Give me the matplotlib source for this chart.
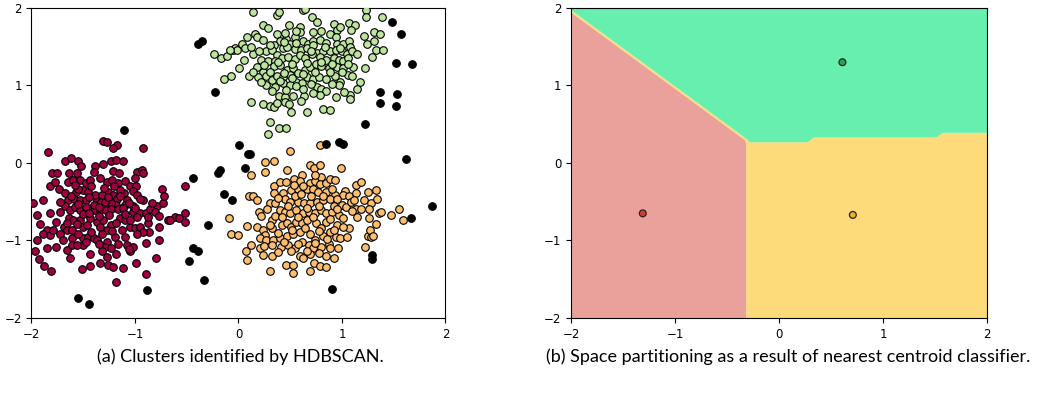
import numpy as np
import matplotlib
matplotlib.use('Agg')
import matplotlib.pyplot as plt

# cluster 0 (dark red)
red_x = [-1.31, -1.27, -1.17, -1.21, -0.92, -1.84, -1.68, -1.62, -1.55, -1.52, -1.39, -1.31, -1.23, -1.18, -1.12,
         -1.21, -1.15, -0.98, -0.93, -0.92, -1.80, -1.75, -1.64, -1.56, -1.82, -1.73, -1.77, -1.65, -1.60, -1.53,
         -1.47, -1.43, -1.34, -1.27, -1.22, -1.16, -1.10, -1.05, -0.99, -1.02, -0.92, -0.98, -0.74, -0.52, -1.99,
         -1.89, -1.68, -1.65, -1.57, -1.50, -1.45, -1.59, -1.53, -1.47, -1.37, -1.33, -1.26, -1.21, -1.17, -1.11,
         -1.08, -1.10, -1.18, -1.23, -1.29, -1.68, -1.63, -1.58, -1.53, -1.47, -1.40, -1.34, -1.28, -1.23, -1.16,
         -1.02, -0.95, -0.89, -0.85, -0.79, -0.73, -0.72, -0.81, -0.77, -0.68, -0.61, -0.57, -0.52, -0.52, -1.95,
         -1.92, -1.82, -1.76, -1.69, -1.64, -1.60, -1.53, -1.50, -1.43, -1.37, -1.31, -1.23, -1.14, -1.10, -1.05,
         -1.00, -0.95, -0.87, -0.86, -0.92, -0.77, -0.66, -1.85, -1.82, -1.95, -1.89, -1.79, -1.66, -1.61, -1.61,
         -1.50, -1.45, -1.40, -1.37, -1.27, -1.19, -1.16, -1.29, -1.23, -1.08, -1.05, -1.02, -0.89, -0.77, -1.13,
         -1.97, -1.85, -1.76, -1.66, -1.61, -1.50, -1.43, -1.32, -1.27, -1.18, -1.06, -0.99, -0.80, -1.93, -1.88,
         -1.81, -1.63, -1.51, -1.43, -1.34, -1.26, -1.21, -1.12, -1.18, -0.89, -1.55, -1.39, -1.32, -1.14, -1.02,
         -0.98, -0.87, -1.35, -1.27, -1.56,
         -1.58, -1.42, -1.30, -1.20, -1.62, -1.44, -1.26, -1.14, -1.72, -1.55, -1.40, -1.35, -1.12, -1.06, -1.72,
         -1.50, -1.44, -1.25, -1.10, -1.00, -1.66, -1.56, -1.46, -1.34, -1.18, -1.05, -1.72, -1.55, -1.42, -1.32,
         -1.22, -1.10, -0.98, -1.70, -1.47, -1.35, -0.95, -0.84, -1.00, -1.40]
red_y = [0.29, 0.27, 0.23, 0.19, 0.19, 0.14, 0.02, 0.07, 0.02, -0.04, -0.04, -0.01, 0.02, 0.04, 0.02,
         -0.10, -0.13, -0.11, -0.09, -0.13, -0.13, -0.13, -0.13, -0.13, -0.30, -0.34, -0.25, -0.24, -0.22, -0.22,
         -0.26, -0.22, -0.20, -0.24, -0.22, -0.26, -0.23, -0.30, -0.30, -0.36, -0.48, -0.41, -0.33, -0.30, -0.51,
         -0.48, -0.39, -0.48, -0.37, -0.35, -0.37, -0.46, -0.48, -0.48, -0.48, -0.50, -0.37, -0.41, -0.46, -0.39,
         -0.48, -0.54, -0.54, -0.52, -0.50, -0.56, -0.61, -0.57, -0.61, -0.57, -0.61, -0.61, -0.61, -0.60, -0.60,
         -0.63, -0.65, -0.64, -0.59, -0.56, -0.51, -0.43, -0.63, -0.69, -0.74, -0.70, -0.71, -0.65, -0.76, -0.67,
         -0.79, -0.65, -0.76, -0.82, -0.71, -0.74, -0.74, -0.82, -0.71, -0.76, -0.74, -0.80, -0.71, -0.74, -0.82,
         -0.84, -0.82, -0.78, -0.89, -0.89, -0.83, -0.74, -0.86, -0.93, -0.99, -0.92, -0.86, -0.86, -0.86, -0.97,
         -0.97, -0.95, -0.97, -0.99, -1.02, -0.95, -1.04, -1.08, -1.10, -1.06, -1.14, -1.08, -1.03, -1.00, -0.86,
         -1.14, -1.10, -1.08, -1.12, -1.06, -1.06, -1.17, -1.14, -1.21, -1.17, -1.11, -1.29, -1.22, -1.24, -1.33,
         -1.40, -1.23, -1.37, -1.33, -1.29, -1.32, -1.34, -1.35, -1.54, -1.43, -0.34, -0.41, -0.41, -0.35, -0.56,
         -0.70, -0.70, -0.69, -0.86, -1.06,
         -0.28, -0.30, -0.32, -0.30, -0.42, -0.44, -0.44, -0.42, -0.50, -0.53, -0.54, -0.57, -0.58, -0.52, -0.63,
         -0.66, -0.64, -0.67, -0.66, -0.58, -0.78, -0.79, -0.80, -0.82, -0.78, -0.73, -0.92, -0.91, -0.89, -0.92,
         -0.88, -0.95, -0.92, -1.00, -1.02, -1.05, -0.47, -0.52, -0.20, -0.12]

# cluster 1 (orange)
orange_x = [0.79, 0.50, 0.26, 0.34, 0.12, 0.26, 0.47, 0.69, 0.73, 0.79, 0.99, 0.61, 0.34, 0.40, 0.46,
            0.54, 0.59, 0.69, 0.74, 0.80, 0.79, 0.85, 0.88, 0.93, 1.14, 1.18, 1.25, 1.33, 0.34, 0.43,
            0.51, 0.58, 0.66, 0.72, 0.77, 0.85, 0.93, 1.03, 1.01, 1.07, 1.14, 1.21, 1.28, 1.34, 0.10,
            0.14, 0.18, 0.30, 0.35, 0.45, 0.50, 0.58, 0.63, 0.69, 0.76, 0.82, 0.88, 0.95, 1.00, 1.04,
            1.09, 1.14, 1.18, 1.26, 1.36, 1.38, 1.47, 1.55, 1.59, 0.20, 0.22, 0.32, 0.35, 0.40, 0.45,
            0.50, 0.56, 0.62, 0.68, 0.74, 0.80, 0.85, 0.90, 0.97, 1.01, 1.07, 1.15, 1.26, 1.33, 0.08,
            0.18, 0.24, 0.26, 0.32, 0.42, 0.47, 0.51, 0.56, 0.61, 0.66, 0.75, 0.80, 0.85, 0.88, 0.95,
            1.01, 0.21, 0.27, 0.33, 0.40, 0.47, 0.53, 0.59, 0.69, 0.74, 0.82, 0.87, 0.94, 0.98, 1.25,
            1.28, 1.27, 1.30, 0.07, 0.12, 0.21, 0.25, 0.32, 0.41, 0.48, 0.55, 0.61, 0.68, 0.72, 0.80,
            0.88, 0.96, 1.22, 0.08, 0.24, 0.32, 0.51, 0.59, 0.62, 0.69, 0.78, 0.92, 0.30, 0.46, 0.53,
            0.53, 0.69, 0.73, 0.79, 0.85, -0.09, -0.07, 0.00,
            0.38, 0.55, 0.70, 0.90, 0.62, 0.48, 0.66, 0.78, 0.92, 1.10, 0.28, 0.42, 0.58, 0.72, 0.88,
            0.95, 0.38, 0.52, 0.64, 0.78, 0.92, 0.44, 0.58, 0.74, 0.86, 0.60, 0.82, 1.12, 0.30, 1.05,
            0.38, 0.66, 0.85, 0.54, 0.74]
orange_y = [0.23, 0.15, 0.01, 0.03, -0.15, -0.12, -0.09, -0.03, -0.06, -0.02, -0.07, -0.15, -0.30, -0.25, -0.24,
            -0.21, -0.23, -0.26, -0.23, -0.18, -0.27, -0.26, -0.21, -0.22, -0.28, -0.24, -0.38, -0.35, -0.39, -0.39,
            -0.35, -0.34, -0.33, -0.34, -0.38, -0.37, -0.41, -0.36, -0.41, -0.43, -0.39, -0.48, -0.51, -0.47, -0.43,
            -0.42, -0.48, -0.51, -0.52, -0.46, -0.50, -0.50, -0.52, -0.51, -0.50, -0.48, -0.47, -0.46, -0.54, -0.57,
            -0.50, -0.59, -0.60, -0.59, -0.65, -0.63, -0.67, -0.59, -0.73, -0.63, -0.68, -0.73, -0.69, -0.61, -0.63,
            -0.65, -0.61, -0.65, -0.63, -0.64, -0.61, -0.65, -0.63, -0.67, -0.71, -0.84, -0.70, -0.71, -0.79, -0.81,
            -0.83, -0.86, -0.93, -0.84, -0.80, -0.77, -0.82, -0.76, -0.78, -0.74, -0.77, -0.84, -0.76, -0.89, -0.80,
            -0.82, -0.97, -0.99, -0.99, -0.97, -0.94, -0.91, -0.89, -0.91, -0.99, -0.94, -1.04, -0.95, -0.97, -0.94,
            -0.95, -0.86, -0.94, -1.13, -1.06, -1.10, -1.07, -1.06, -1.08, -1.06, -1.10, -1.02, -1.06, -1.10, -1.08,
            -1.10, -1.10, -1.09, -1.25, -1.19, -1.20, -1.13, -1.20, -1.23, -1.18, -1.16, -1.22, -1.40, -1.31, -1.32,
            -1.42, -1.40, -1.29, -1.33, -1.34, -0.71, -0.91, -0.93,
            -0.45, -0.42, -0.42, -0.33, -0.30, -0.55, -0.58, -0.56, -0.55, -0.62, -0.60, -0.70, -0.70, -0.70, -0.72,
            -0.60, -0.90, -0.86, -0.84, -0.88, -0.86, -1.02, -1.04, -1.03, -0.98, -0.40, -0.42, -0.48, -0.80, -0.95,
            -1.15, -1.13, -1.20, -0.28, -0.15]

# cluster 2 (light green)
green_x = [-0.24, -0.17, -0.11, -0.05, -0.03, -0.01, 0.01, -0.14, -0.07, 0.14, 0.37, 0.39, 0.62, 0.64, 0.71,
           0.76, 1.23, 1.23, 1.39, 0.24, 0.29, 0.49, 0.59, 0.59, 0.55, 0.72, 0.88, 0.92, 0.95, 0.98,
           1.07, 1.13, 1.09, 1.21, 1.31, 1.37, 0.08, 0.16, 0.18, 0.24, 0.37, 0.40, 0.34, 0.46, 0.50,
           0.43, 0.62, 0.67, 0.72, 0.79, 0.85, 0.94, 0.95, 1.01, 1.07, 1.08, 1.24, 1.31, -0.08, 0.03,
           0.06, 0.14, 0.27, 0.32, 0.37, 0.47, 0.55, 0.60, 0.66, 0.72, 0.76, 0.82, 0.88, 0.94, 1.00,
           1.05, 1.10, 1.33, 1.40, 1.29, 0.05, 0.22, 0.29, 0.35, 0.42, 0.48, 0.55, 0.59, 0.64, 0.71,
           0.79, 0.85, 0.92, 0.97, 1.01, 1.06, 1.11, 1.22, 0.18, 0.24, 0.34, 0.40, 0.47, 0.53, 0.58,
           0.64, 0.69, 0.75, 0.80, 0.87, 0.95, 1.01, 1.06, 0.10, 0.19, 0.27, 0.32, 0.37, 0.43, 0.50,
           0.56, 0.61, 0.66, 0.72, 0.78, 0.85, 0.93, 0.98, 1.17, 0.27, 0.35, 0.43, 0.50, 0.56, 0.76,
           0.80, 0.85, 0.97, 1.08, 1.08, 1.15, 0.39, 0.45, 0.53, 0.63, 0.79, 0.94, 0.12, 0.24, 0.30,
           0.34, 0.37, 0.45, 0.49, 0.51, 0.66, 0.82, 0.88, 0.30, 0.39, 0.46, 0.29,
           0.20, 0.30, 0.44, 0.56, 0.70, 0.84, 0.98, 0.25, 0.38, 0.52, 0.66, 0.80, 0.90, 1.06, 0.14,
           0.30, 0.44, 0.62, 0.74, 0.88, 1.00, 0.22, 0.40, 0.52, 0.70, 0.90, 1.10, 0.32, 0.46, 0.62,
           0.72, 0.56, 0.80, 0.45, 0.12, 0.60, 1.15, 1.02]
green_y = [1.41, 1.35, 1.38, 1.46, 1.49, 1.46, 1.22, 1.09, 1.12, 1.95, 1.91, 1.95, 1.97, 1.99, 1.88,
           1.82, 1.97, 1.89, 1.89, 1.78, 1.74, 1.78, 1.75, 1.69, 1.63, 1.69, 1.66, 1.79, 1.72, 1.75,
           1.81, 1.78, 1.72, 1.64, 1.69, 1.66, 1.62, 1.67, 1.62, 1.59, 1.67, 1.57, 1.52, 1.60, 1.54,
           1.48, 1.57, 1.54, 1.57, 1.59, 1.55, 1.63, 1.54, 1.54, 1.57, 1.50, 1.54, 1.58, 1.46, 1.54,
           1.48, 1.41, 1.44, 1.46, 1.39, 1.50, 1.47, 1.46, 1.48, 1.52, 1.42, 1.45, 1.44, 1.46, 1.44,
           1.41, 1.44, 1.46, 1.46, 1.37, 1.33, 1.33, 1.31, 1.32, 1.35, 1.37, 1.34, 1.39, 1.36, 1.41,
           1.37, 1.33, 1.35, 1.33, 1.32, 1.36, 1.24, 1.22, 1.24, 1.18, 1.25, 1.26, 1.20, 1.22, 1.16,
           1.20, 1.24, 1.28, 1.25, 1.22, 1.24, 1.22, 1.14, 1.12, 1.11, 1.12, 1.07, 1.12, 1.11, 1.14,
           1.05, 1.03, 1.11, 1.09, 1.11, 1.09, 1.12, 1.05, 1.05, 1.01, 0.98, 1.03, 1.01, 0.99, 0.98,
           0.95, 0.93, 1.01, 0.88, 0.83, 0.96, 0.86, 0.85, 0.86, 0.86, 0.88, 0.85, 0.79, 0.76, 0.74,
           0.72, 0.77, 0.79, 0.76, 0.66, 0.66, 0.70, 0.69, 0.53, 0.45, 0.45, 0.38,
           1.45, 1.52, 1.56, 1.55, 1.45, 1.50, 1.49, 1.27, 1.30, 1.28, 1.29, 1.30, 1.28, 1.28, 1.18,
           1.18, 1.16, 1.15, 1.18, 1.17, 1.17, 1.05, 1.06, 1.10, 1.02, 1.02, 1.12, 0.93, 0.94, 0.95,
           0.90, 1.70, 1.70, 1.68, 1.50, 0.80, 1.40, 0.92]

# noise (black)
noise_x = [-1.11, 0.01, -0.44, -0.20, -0.18, -0.14, -0.06, -0.29, -0.44, -0.39, -0.48, -0.33, -0.88, -1.55, -1.44,
           0.85, 0.97, 1.01, 0.11, 0.09, 0.06, 1.62, 1.87, 1.67, 1.29, 1.29, 0.90, 1.48, 1.57, 1.52,
           1.68, 1.37, 1.53, 1.37, 1.52, 1.22, -0.39, -0.35, -0.23]
noise_y = [0.43, 0.23, -0.20, -0.13, -0.09, -0.40, -0.48, -0.80, -1.10, -1.14, -1.26, -1.51, -1.64, -1.74, -1.82,
           0.25, 0.27, 0.25, 0.12, 0.11, -0.06, 0.05, -0.56, -0.71, -1.19, -1.24, -1.63, 1.82, 1.67, 1.29,
           1.28, 0.92, 0.89, 0.78, 0.74, 0.50, 1.54, 1.57, 0.91]

# centroids for the right panel: red, yellow, green
cent_x = [-1.31, 0.71, 0.61]
cent_y = [-0.65, -0.67, 1.30]

cluster_cols = ['#9e0142', '#fdbf6f', '#bee5a0']
fill_cols = ['#eba19b', '#fdda7a', '#66efae']
cent_cols = ['#e0392f', '#f0b21c', '#2e9e5b']

plt.rcParams['font.family'] = 'DejaVu Sans'
fig = plt.figure(figsize=(10.42, 4.07), dpi=100)
ax1 = fig.add_axes([0.0302, 0.2187, 0.3973, 0.7617])
ax2 = fig.add_axes([0.548, 0.2187, 0.3992, 0.7617])

# left: hdbscan clusters
ms = 30
ax1.scatter(red_x, red_y, s=ms, c=cluster_cols[0], edgecolors='k', linewidths=0.8, zorder=3)
ax1.scatter(orange_x, orange_y, s=ms, c=cluster_cols[1], edgecolors='k', linewidths=0.8, zorder=3)
ax1.scatter(green_x, green_y, s=ms, c=cluster_cols[2], edgecolors='k', linewidths=0.8, zorder=3)
ax1.scatter(noise_x, noise_y, s=ms, c='k', edgecolors='k', linewidths=0.8, zorder=3)

# right: nearest centroid partition on a coarse grid
# x step chosen so the diagonal boundary sits at a constant offset in the grid (no kinks)
gx = np.arange(-2.079, 2.1, 0.06195)
gy = np.arange(-2.02, 2.05, 0.061)
xx, yy = np.meshgrid(gx, gy)
cx = np.array(cent_x)
cy = np.array(cent_y)
d = (xx[..., None] - cx) ** 2 + (yy[..., None] - cy) ** 2
Z = np.argmin(d, axis=2)
ax2.contourf(xx, yy, Z, levels=[-0.5, 0.5, 1.5, 2.5], colors=fill_cols, antialiased=True)
ax2.scatter(cent_x, cent_y, s=24, c=cent_cols, edgecolors='#222222', linewidths=0.9, zorder=3)

for ax in (ax1, ax2):
    ax.set_xlim(-2, 2)
    ax.set_ylim(-2, 2)
    ax.set_xticks([-2, -1, 0, 1, 2])
    ax.set_yticks([-2, -1, 0, 1, 2])
    ax.tick_params(labelsize=8.5)

cap_font = ['Lato', 'DejaVu Sans']
fig.text(240 / 1042, 1 - 357 / 407, '(a) Clusters identified by HDBSCAN.', ha='center', va='center',
         fontsize=13, family=cap_font)
fig.text(788 / 1042, 1 - 357 / 407, '(b) Space partitioning as a result of nearest centroid classifier.',
         ha='center', va='center', fontsize=13, family=cap_font)

fig.savefig('out.png', dpi=100)
